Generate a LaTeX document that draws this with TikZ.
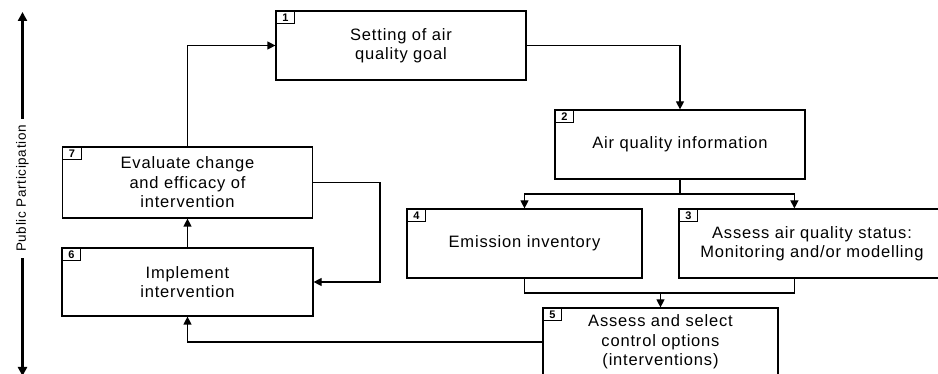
\documentclass[tikz,border=0pt]{standalone}
\usepackage{fontspec}
\setmainfont{Liberation Sans}[LetterSpace=5]
\usepackage{tikz}
\usetikzlibrary{arrows.meta}
\tikzstyle{Box}=[rectangle, minimum height=69pt, align=center, inner sep=0pt, draw=black, line width=1.2pt, font=\fontsize{16.5}{19.5}\selectfont]
\tikzstyle{Num}=[rectangle, draw=black, line width=0.9pt, minimum width=19pt, minimum height=13pt, inner sep=0pt, anchor=north west, font=\fontsize{11}{11}\selectfont\bfseries]
\tikzstyle{Link}=[line width=1.2pt, -{Triangle[length=8pt,width=8pt]}]
\tikzstyle{Wire}=[line width=1.2pt]

\begin{document}
\begin{tikzpicture}[x=1pt, y=-1pt]
    \useasboundingbox (0,0) rectangle (938,374);
    \path
    (401,45.5) node[Box, minimum width=250pt] (goal) {Setting of air\\quality goal}
    (680,144.5) node[Box, minimum width=250pt] (info) {Air quality information}
    (812,243.5) node[Box, minimum width=266pt] (status) {Assess air quality status:\\Monitoring and/or modelling}
    (524.5,243.5) node[Box, minimum width=235pt] (inventory) {Emission inventory}
    (660.5,342) node[Box, minimum width=235pt, minimum height=68pt] (options) {Assess and select\\control options\\(interventions)}
    (187.5,282) node[Box, minimum width=251pt, minimum height=68pt] (implement) {Implement\\intervention}
    (187.5,182.5) node[Box, minimum width=250pt, minimum height=71pt] (evaluate) {Evaluate change\\and efficacy of\\intervention};

    % step numbers
    \foreach \n/\b in {1/goal, 2/info, 3/status, 4/inventory, 5/options, 6/implement, 7/evaluate}
        \node[Num] (num\n) at (\b.north west) {\n};

    \coordinate (split) at (680,194);
    \coordinate (merge) at (660.5,293);
    \coordinate (loop) at (380,182.5);

    \draw[Link] (goal) -| (info);
    \draw[Wire] (info) -- (split);
    \draw[Link] (split) -| (inventory);
    \draw[Link] (split) -| ([xshift=116pt]status.north west);
    \draw[Wire] (inventory) |- (merge) -| ([xshift=116pt]status.south west);
    \draw[Link] (merge) -- (options);
    \draw[Link] (options) -| (implement);
    \draw[Link] (implement) -- (evaluate);
    \draw[Link] (evaluate) |- (goal);
    \draw[Link] (evaluate) -- (loop) |- (implement);

    % public participation
    \path (22.5,188.5) node[rotate=90, inner sep=6pt, font=\fontsize{13.5}{14}\selectfont] (pp) {Public Participation};
    \coordinate (pptop) at (22.5,12);
    \coordinate (ppbot) at (22.5,376);
    \draw[line width=2.6pt, -{Triangle[length=9pt,width=9pt]}] (pp.east) -- (pptop);
    \draw[line width=2.6pt, -{Triangle[length=9pt,width=9pt]}] (pp.west) -- (ppbot);
\end{tikzpicture}
\end{document}
